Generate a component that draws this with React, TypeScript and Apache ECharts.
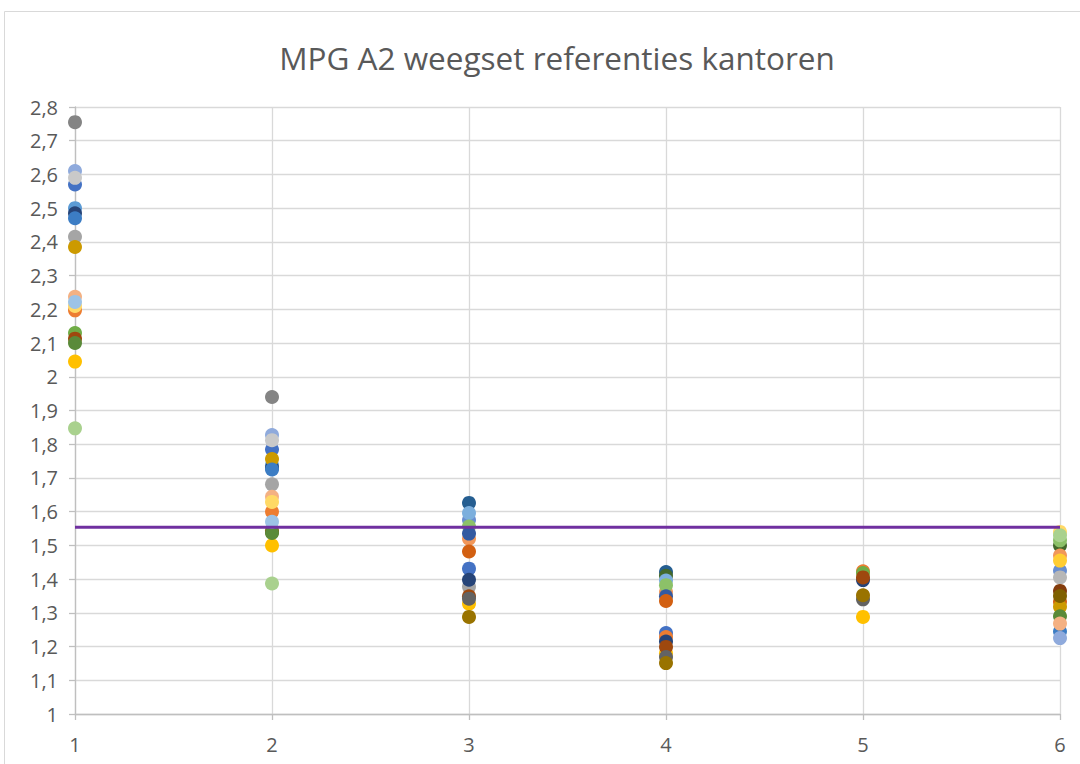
import React, { useEffect, useRef } from "react";
import * as echarts from "echarts";

const chartTitle = "MPG A2 weegset referenties kantoren";
const xValues = [1, 2, 3, 4, 5, 6];
const yMin = 1;
const yMax = 2.8;
const yInterval = 0.1;
const referenceValue = 1.554;

const seriesNames = [
  "Ref 1", "Ref 2", "Ref 3", "Ref 4", "Ref 5", "Ref 6", "Ref 7", "Ref 8",
  "Ref 9", "Ref 10", "Ref 11", "Ref 12", "Ref 13", "Ref 14", "Ref 15", "Ref 16",
  "Ref 17", "Ref 18", "Ref 19", "Ref 20", "Ref 21", "Ref 22", "Ref 23", "Ref 24",
  "Ref 25", "Ref 26", "Ref 27", "Ref 28", "Ref 29", "Ref 30", "Ref 31", "Ref 32",
];

const seriesColors = [
  "#4472C4", "#ED7D31", "#A5A5A5", "#FFC000", "#5B9BD5", "#70AD47", "#264478", "#9E480E",
  "#636363", "#997300", "#255E91", "#43682B", "#698ED0", "#F1975A", "#B7B7B7", "#FFCD33",
  "#7CAFDD", "#8CC168", "#335AA1", "#D26012", "#848484", "#CC9A00", "#3C7DC4", "#5A8A39",
  "#8FAADC", "#F4B183", "#C9C9C9", "#FFD966", "#9DC3E6", "#A9D18E", "#843C0C", "#7F6000",
];

// values at x = 1..6 (null = no point)
const seriesValues: (number | null)[][] = [
  [2.57, 1.784, 1.431, 1.24, null, null],
  [2.197, 1.6, null, 1.228, 1.423, null],
  [2.415, 1.681, 1.377, null, null, null],
  [2.045, 1.5, 1.327, 1.18, 1.288, null],
  [2.5, 1.738, null, null, null, null],
  [2.13, 1.545, null, null, 1.418, null],
  [2.485, 1.73, 1.398, 1.215, 1.397, null],
  [2.113, 1.54, 1.349, 1.199, 1.405, null],
  [null, null, 1.342, 1.169, 1.34, null],
  [null, null, 1.288, 1.151, 1.352, null],
  [null, null, 1.626, 1.421, null, null],
  [null, null, null, 1.41, null, 1.5],
  [null, null, 1.575, null, null, 1.425],
  [null, null, 1.52, 1.362, null, 1.47],
  [null, null, null, null, null, 1.405],
  [null, null, null, null, null, 1.455],
  [null, null, 1.596, 1.396, null, null],
  [null, null, 1.556, 1.382, null, 1.515],
  [null, null, 1.535, 1.349, null, null],
  [null, null, 1.482, 1.335, null, 1.333],
  [2.755, 1.94, null, null, null, null],
  [2.385, 1.756, null, null, null, 1.318],
  [2.47, 1.725, null, null, null, 1.245],
  [2.1, 1.537, null, null, null, 1.29],
  [2.61, 1.827, null, null, null, 1.225],
  [2.237, 1.644, null, null, null, 1.268],
  [2.59, 1.812, null, null, null, null],
  [2.21, 1.629, null, null, null, 1.54],
  [2.222, 1.57, null, null, null, null],
  [1.847, 1.387, null, null, null, 1.53],
  [null, null, null, null, null, 1.365],
  [null, null, null, null, null, 1.35],
];

const FONT = "'Open Sans', 'Noto Sans', sans-serif";
const TEXT_COLOR = "#595959";

function formatTick(v: number): string {
  return String(Number(v.toFixed(1))).replace(".", ",");
}

export default function App() {
  const ref = useRef<HTMLDivElement>(null);

  useEffect(() => {
    if (!ref.current) return;
    const chart = echarts.init(ref.current, undefined, { renderer: "svg" });

    const scatterSeries = seriesValues.map((vals, i) => ({
      name: seriesNames[i],
      type: "scatter" as const,
      symbol: "circle",
      symbolSize: 14,
      itemStyle: { color: seriesColors[i], opacity: 1 },
      data: xValues
        .map((x, j) => (vals[j] == null ? null : [x, vals[j]]))
        .filter((d) => d !== null),
    }));

    chart.setOption({
      animation: false,
      backgroundColor: "#ffffff",
      title: {
        text: chartTitle,
        left: 552,
        top: 36,
        textAlign: "center",
        textStyle: {
          fontFamily: FONT,
          fontSize: 31.5,
          fontWeight: "normal",
          color: TEXT_COLOR,
        },
      },
      graphic: [
        {
          type: "rect",
          silent: true,
          z: -10,
          shape: { x: 4.5, y: 11.5, width: 1200, height: 1000 },
          style: { fill: "none", stroke: "#D9D9D9", lineWidth: 1 },
        },
      ],
      grid: { left: 75, right: 20, top: 107, bottom: 50, containLabel: false },
      xAxis: {
        type: "value",
        min: 1,
        max: 6,
        interval: 1,
        axisLine: { show: true, onZero: false, lineStyle: { color: "#BFBFBF", width: 1.3 } },
        axisTick: { show: true, length: 6, lineStyle: { color: "#BFBFBF", width: 1.3 } },
        splitLine: { show: true, lineStyle: { color: "#D9D9D9", width: 1.3 } },
        axisLabel: {
          margin: 20,
          fontFamily: FONT,
          fontSize: 20,
          color: TEXT_COLOR,
        },
      },
      yAxis: {
        type: "value",
        min: yMin,
        max: yMax,
        interval: yInterval,
        axisLine: { show: true, onZero: false, lineStyle: { color: "#BFBFBF", width: 1.3 } },
        axisTick: { show: true, length: 6, lineStyle: { color: "#BFBFBF", width: 1.3 } },
        splitLine: { show: true, lineStyle: { color: "#D9D9D9", width: 1.3 } },
        axisLabel: {
          margin: 17,
          fontFamily: FONT,
          fontSize: 20,
          color: TEXT_COLOR,
          formatter: (v: number) => formatTick(v),
        },
      },
      series: [
        ...scatterSeries,
        {
          name: "Gemiddelde",
          type: "line",
          symbol: "none",
          lineStyle: { color: "#7030A0", width: 3 },
          data: [
            [xValues[0], referenceValue],
            [xValues[xValues.length - 1], referenceValue],
          ],
          z: 5,
        },
      ],
    });

    return () => chart.dispose();
  }, []);

  return (
    <div
      ref={ref}
      style={{ position: "absolute", left: 0, top: 0, width: 1080, height: 764, background: "#fff" }}
    />
  );
}
